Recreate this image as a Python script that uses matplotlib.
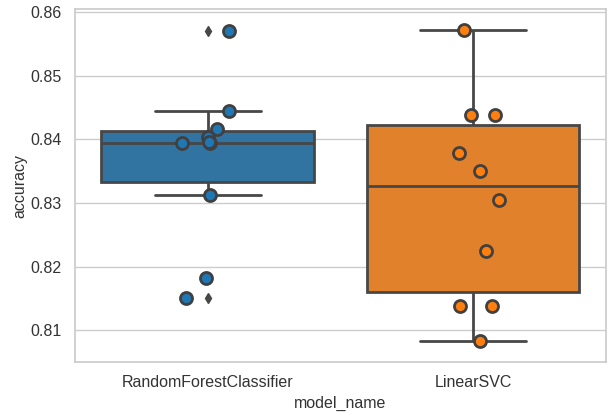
import matplotlib
matplotlib.use("Agg")
import numpy as np
import pandas as pd
import matplotlib.pyplot as plt
import seaborn as sns

models = ["RandomForestClassifier", "LinearSVC"]

rf_acc = [0.8571, 0.8445, 0.8417, 0.8404, 0.8394, 0.8394, 0.8396, 0.8313, 0.8182, 0.8151]
rf_jit = [0.079, 0.079, 0.035, 0.0, -0.096, 0.009, 0.004, 0.010, -0.005, -0.081]

svc_acc = [0.8572, 0.8438, 0.8438, 0.8378, 0.8350, 0.8305, 0.8225, 0.8138, 0.8138, 0.8084]
svc_jit = [-0.033, -0.008, 0.083, -0.052, 0.025, 0.096, 0.048, -0.050, 0.071, 0.025]

df = pd.DataFrame({
    "model_name": [models[0]] * len(rf_acc) + [models[1]] * len(svc_acc),
    "accuracy": rf_acc + svc_acc,
})

sns.set_theme(style="whitegrid")
plt.rcParams["font.family"] = ["Liberation Sans", "DejaVu Sans"]

fig = plt.figure(figsize=(6.09, 4.12), dpi=100)
ax = fig.add_axes([0.123, 0.121, 0.872, 0.857])

sns.boxplot(data=df, x="model_name", y="accuracy", hue="model_name",
            palette=["#1f77b4", "#ff7f0e"], saturation=0.75, width=0.8,
            linewidth=2, linecolor="#474747",
            flierprops=dict(marker="d", markersize=5, markerfacecolor="#474747",
                            markeredgecolor="#474747"),
            ax=ax, legend=False)

cols = ["#1f77b4", "#ff7f0e"]
for i, (acc, jit) in enumerate([(rf_acc, rf_jit), (svc_acc, svc_jit)]):
    ax.scatter(i + np.array(jit), acc, s=75, color=cols[i],
               edgecolor="#404040", linewidth=2, zorder=5)

ax.set_ylim(0.8050, 0.8605)
ax.set_xlim(-0.5, 1.5)
ax.set_yticks([0.81, 0.82, 0.83, 0.84, 0.85, 0.86])
ax.set_xlabel("model_name", fontsize=11.5, color="#333333")
ax.set_ylabel("accuracy", fontsize=11.5, color="#333333", labelpad=2)
ax.tick_params(labelsize=11.5, labelcolor="#333333")

fig.savefig("out.png", dpi=100)
